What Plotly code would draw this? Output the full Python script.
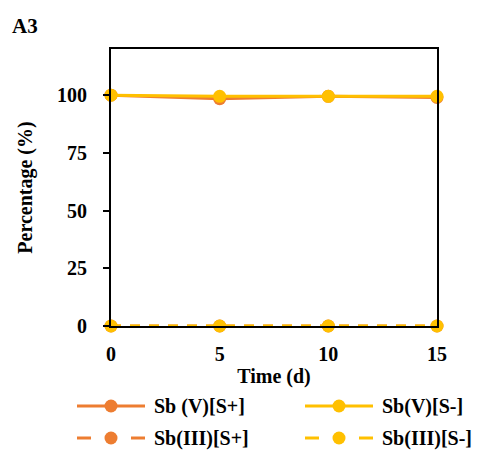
import plotly.graph_objects as go

# Sampling days and percentage of each antimony species
days = [0, 5, 10, 15]
sbv_s_plus = [100, 98.5, 99.5, 99]
sbv_s_minus = [100, 99.5, 99.5, 99.5]
sbiii_s_plus = [0, 0, 0, 0]
sbiii_s_minus = [0, 0, 0, 0]

ORANGE = "#ED7D31"
GOLD = "#FFC000"
FONT = "Liberation Serif"

W, H = 480, 451
L, R, T, B = 111, 437, 49, 326  # plot area in pixels

series = [
    ("Sb (V)[S+]", sbv_s_plus, ORANGE, "solid"),
    ("Sb(V)[S-]", sbv_s_minus, GOLD, "solid"),
    ("Sb(III)[S+]", sbiii_s_plus, ORANGE, "10px,9px"),
    ("Sb(III)[S-]", sbiii_s_minus, GOLD, "10px,9px"),
]

fig = go.Figure()
for name, vals, color, dash in series:
    fig.add_trace(go.Scatter(
        x=days, y=vals, name=name, mode="lines+markers",
        line=dict(color=color, width=3, dash=dash),
        marker=dict(color=color, size=13),
        cliponaxis=False, showlegend=False,
    ))


def px(xp):
    return (xp - L) / (R - L)


def py(yp):
    return (B - yp) / (B - T)


def bold(size):
    return dict(family=FONT, size=size, color="black", weight="bold")


# Hand-built legend below the chart: two rows, two columns
shapes = []
annotations = []
legend_pos = [(77, 406), (305, 406), (77, 438), (305, 438)]
for (name, vals, color, dash), (x0, yc) in zip(series, legend_pos):
    if dash == "solid":
        segs = [(x0, x0 + 68)]
    else:
        segs = [(x0, x0 + 14), (x0 + 54, x0 + 68)]
    for a, b in segs:
        shapes.append(dict(type="line", xref="paper", yref="paper",
                           x0=px(a), x1=px(b), y0=py(yc), y1=py(yc),
                           line=dict(color=color, width=3)))
    r = 6.5
    cx = x0 + 34
    shapes.append(dict(type="circle", xref="paper", yref="paper",
                       x0=px(cx - r), x1=px(cx + r), y0=py(yc + r), y1=py(yc - r),
                       fillcolor=color, line=dict(color=color, width=0)))
    annotations.append(dict(text=name, xref="paper", yref="paper",
                            x=px(x0 + 75), y=py(yc), xanchor="left", yanchor="middle",
                            showarrow=False, font=bold(20)))

annotations.append(dict(text="A3", xref="paper", yref="paper",
                        x=px(10), y=py(26), xanchor="left", yanchor="middle",
                        showarrow=False, font=bold(21)))

fig.update_layout(
    width=W, height=H,
    margin=dict(l=L, r=W - R, t=T, b=H - B),
    plot_bgcolor="white", paper_bgcolor="white",
    font=dict(family=FONT, color="black"),
    shapes=shapes, annotations=annotations,
)
fig.update_xaxes(
    range=[0, 15], tickvals=[0, 5, 10, 15],
    showline=True, linecolor="black", linewidth=2, mirror=True,
    showgrid=False, zeroline=False, ticks="",
    ticklabelstandoff=9,
    tickfont=bold(20),
    title=dict(text="Time (d)", standoff=5, font=bold(20)),
)
fig.update_yaxes(
    range=[0, 120], tickvals=[0, 25, 50, 75, 100],
    showline=True, linecolor="black", linewidth=2, mirror=True,
    showgrid=False, zeroline=False, ticks="outside", ticklen=6,
    tickcolor="black", tickwidth=2, ticklabelstandoff=12,
    tickfont=bold(20),
    title=dict(text="Percentage (%)", standoff=19, font=bold(20)),
)

fig.write_html("out.html")
